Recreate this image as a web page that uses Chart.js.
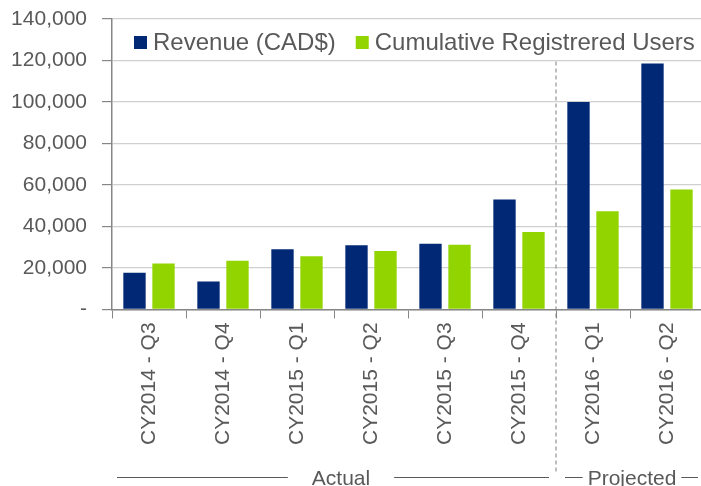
<!DOCTYPE html>
<html lang="en">
  <head>
    <meta charset="UTF-8" />
    <title>Revenue and registered users</title>
    <style>
      html, body { margin: 0; padding: 0; background: #fff; overflow: hidden; }
      #wrap { position: relative; width: 706px; height: 486px; }
    </style>
  </head>
  <body>
    <div id="wrap">
      <canvas id="myChart"></canvas>
    </div>

    <script src="https://cdn.jsdelivr.net/npm/chart.js"></script>
    <script>
      const categories = [
        "CY2014 - Q3", "CY2014 - Q4", "CY2015 - Q1", "CY2015 - Q2",
        "CY2015 - Q3", "CY2015 - Q4", "CY2016 - Q1", "CY2016 - Q2",
      ];
      const revenue = [17700, 13500, 29000, 30900, 31700, 53000, 100000, 118600];
      const users = [22100, 23500, 25600, 28200, 31200, 37300, 47300, 57800];
      const yTicks = [0, 20000, 40000, 60000, 80000, 100000, 120000, 140000];
      // groups under the x axis: label, first and last category index
      const groups = [
        { label: "Actual", from: 0, to: 5 },
        { label: "Projected", from: 6, to: 7 },
      ];

      const textColor = "#595959";
      const fontFamily = "'Liberation Sans', Arial, sans-serif";
      Chart.defaults.font.family = fontFamily;
      Chart.defaults.color = textColor;

      // legend drawn inside the plot area, like the original
      const insideLegend = {
        id: "insideLegend",
        afterDraw(chart) {
          const ctx = chart.ctx;
          const area = chart.chartArea;
          let x = area.left + 22;
          const y = 42;
          ctx.save();
          ctx.font = "24px " + fontFamily;
          ctx.textBaseline = "middle";
          chart.data.datasets.forEach((ds) => {
            ctx.fillStyle = ds.backgroundColor;
            ctx.fillRect(x, y - 6, 13, 13);
            x += 19;
            ctx.fillStyle = textColor;
            ctx.fillText(ds.label, x, y + 1);
            x += ctx.measureText(ds.label).width + 20;
          });
          ctx.restore();
        },
      };

      // dashed separator and group labels under the axis
      const groupMarks = {
        id: "groupMarks",
        afterDraw(chart) {
          const ctx = chart.ctx;
          const xs = chart.scales.x;
          const ys = chart.scales.y;
          const half = (xs.getPixelForValue(1) - xs.getPixelForValue(0)) / 2;
          const sepX = xs.getPixelForValue(5) + half;
          ctx.save();
          ctx.strokeStyle = "#7f7f7f";
          ctx.lineWidth = 1;
          ctx.setLineDash([4, 3]);
          ctx.beginPath();
          ctx.moveTo(sepX, ys.getPixelForValue(120000) + 1);
          ctx.lineTo(sepX, 473);
          ctx.stroke();
          ctx.setLineDash([]);

          ctx.font = "21px " + fontFamily;
          ctx.textAlign = "center";
          ctx.textBaseline = "middle";
          const ly = 477;
          groups.forEach((g, i) => {
            const left = xs.getPixelForValue(g.from) - half + (i === 0 ? 5 : 9);
            const right = xs.getPixelForValue(g.to) + half - (i === 0 ? 7 : 6);
            const mid = (xs.getPixelForValue(g.from) + xs.getPixelForValue(g.to)) / 2 + (i === 0 ? 7 : 2);
            const w = ctx.measureText(g.label).width;
            const gap = i === 0 ? 24 : 5;
            ctx.fillStyle = textColor;
            ctx.fillText(g.label, mid, ly + 2);
            ctx.strokeStyle = "#595959";
            ctx.beginPath();
            ctx.moveTo(left, ly + 0.5);
            ctx.lineTo(mid - w / 2 - gap, ly + 0.5);
            ctx.moveTo(mid + w / 2 + gap, ly + 0.5);
            ctx.lineTo(right, ly + 0.5);
            ctx.stroke();
          });
          ctx.restore();
        },
      };

      const ctx = document.getElementById("myChart").getContext("2d");
      new Chart(ctx, {
        type: "bar",
        data: {
          labels: categories,
          datasets: [
            {
              label: "Revenue (CAD$)",
              data: revenue,
              backgroundColor: "#002874",
              categoryPercentage: 0.784,
              barPercentage: 0.77,
            },
            {
              label: "Cumulative Registrered Users",
              data: users,
              backgroundColor: "#92d400",
              categoryPercentage: 0.784,
              barPercentage: 0.77,
            },
          ],
        },
        options: {
          responsive: true,
          maintainAspectRatio: false,
          animation: false,
          layout: { padding: { top: 19, left: 10, right: 2, bottom: 37 } },
          plugins: {
            legend: { display: false },
            tooltip: { enabled: false },
          },
          scales: {
            x: {
              grid: {
                offset: true,
                drawOnChartArea: false,
                tickLength: 9,
                tickColor: "#868686",
                tickWidth: 1,
              },
              border: { color: "#868686", width: 1.5 },
              ticks: {
                minRotation: 90,
                maxRotation: 90,
                padding: 4,
                font: { size: 21 },
                color: textColor,
              },
            },
            y: {
              min: 0,
              max: 140000,
              afterBuildTicks(axis) {
                axis.ticks = yTicks.map((v) => ({ value: v }));
              },
              afterFit(axis) {
                axis.width = 102;
                axis.paddingTop = 0;
                axis.paddingBottom = 0;
              },
              grid: {
                color: "#d0d0d0",
                lineWidth: 1.2,
                tickLength: 10,
                tickColor: "#868686",
              },
              border: { color: "#868686", width: 1.5 },
              ticks: {
                padding: 15,
                font: { size: 21 },
                color: textColor,
                callback: (v) => (v === 0 ? "-" : v.toLocaleString("en-US")),
              },
            },
          },
        },
        plugins: [insideLegend, groupMarks],
      });
    </script>
  </body>
</html>
